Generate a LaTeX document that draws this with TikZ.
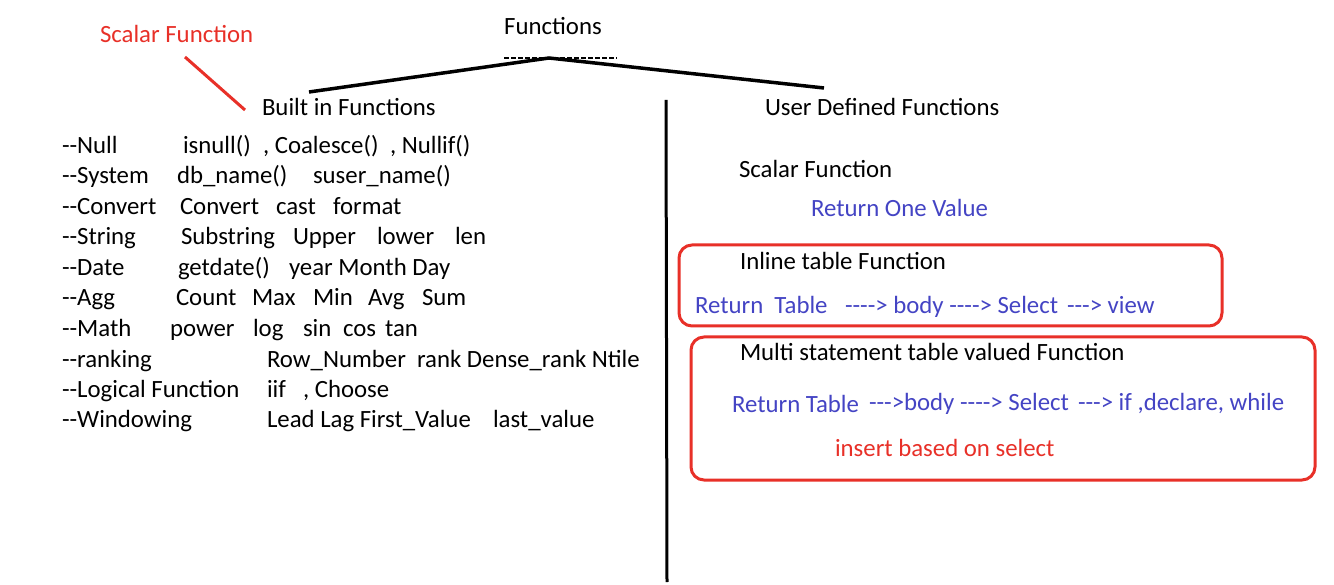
\documentclass[tikz,border=0pt]{standalone}
\usepackage{fontspec}
\setmainfont{Carlito}
\definecolor{myred}{RGB}{232,48,40}
\definecolor{myblue}{RGB}{68,68,196}
\newcommand{\dd}{{-}{-}}
\begin{document}
\begin{tikzpicture}[x=1pt,y=-1pt,
  every node/.style={inner sep=0pt,outer sep=0pt,anchor=base west,font=\fontsize{24.8}{30}\selectfont},
  redtxt/.style={text=myred},
  bluetxt/.style={text=myblue},
  blk/.style={line width=3.5pt,black},
  vline/.style={line width=3pt,black},
  redbox/.style={draw=myred,line width=3pt,rounded corners=13pt},
]
\useasboundingbox[fill=white] (0,0) rectangle (1334,585);
% title
\node[anchor=base] (fun) at (553,35) {Functions};
\coordinate (dl) at (504,58);
\coordinate (dr) at (617,58);
\draw[line width=1.4pt,dash pattern=on 5pt off 2pt] (dl) -- (dr);
\coordinate (apex) at (549,58);
\coordinate (lend) at (309,92);
\coordinate (rend) at (824,88);
\draw[blk] (lend) -- (apex) -- (rend);
% left
\node[redtxt] (sf) at (100,43) {Scalar Function};
\coordinate (sa) at (185,57);
\coordinate (sb) at (245,110);
\draw[myred,line width=3pt] (sa) -- (sb);
\node (bif) at (262,116) {Built in Functions};
% divider
\coordinate (vt) at (666,100);
\coordinate (vb) at (667,582);
\draw[vline] (vt) -- (vb);
% list
\node (l1) at (62,154) {\dd Null};
\node (l1a) at (183,154) {isnull()};
\node (l1b) at (263,154) {, Coalesce()};
\node (l1c) at (390,154) {, Nullif()};
\node (l2) at (62,184) {\dd System};
\node (l2a) at (177,184) {db\_name()};
\node (l2b) at (313,184) {suser\_name()};
\node (l3) at (62,215) {\dd Convert};
\node (l3a) at (180,215) {Convert};
\node (l3b) at (276,215) {cast};
\node (l3c) at (333,215) {format};
\node (l4) at (62,245) {\dd String};
\node (l4a) at (181,245) {Substring};
\node (l4b) at (293,245) {Upper};
\node (l4c) at (377,245) {lower};
\node (l4d) at (455,245) {len};
\node (l5) at (62,276) {\dd Date};
\node (l5a) at (178,276) {getdate()};
\node (l5b) at (289,276) {year Month Day};
\node (l6) at (62,306) {\dd Agg};
\node (l6a) at (176,306) {Count};
\node (l6b) at (252,306) {Max};
\node (l6c) at (313,306) {Min};
\node (l6d) at (368,306) {Avg};
\node (l6e) at (422,306) {Sum};
\node (l7) at (62,337) {\dd Math};
\node (l7a) at (170,337) {power};
\node (l7b) at (253,337) {log};
\node (l7c) at (303,337) {sin};
\node (l7d) at (343,337) {cos};
\node (l7e) at (385,337) {tan};
\node (l8) at (62,367) {\dd ranking};
\node (l8a) at (267,367) {Row\_Number};
\node (l8b) at (417,367) {rank Dense\_rank Ntile};
\node (l9) at (62,398) {\dd Logical Function};
\node (l9a) at (267,398) {iif};
\node (l9b) at (303,398) {, Choose};
\node (l10) at (62,428) {\dd Windowing};
\node (l10a) at (267,428) {Lead Lag First\_Value};
\node (l10b) at (493,428) {last\_value};
% right
\node (udf) at (765,116) {User Defined Functions};
\node (sc) at (739,178) {Scalar Function};
\node[bluetxt] (rov) at (811,217) {Return One Value};
\draw[redbox] (679,245) rectangle (1222,326);
\node (itf) at (740,270) {Inline table Function};
\node[bluetxt] (rt1) at (695,314) {Return\ \ Table};
\node[bluetxt] (rt1b) at (845,314) {\dd\dd> body \dd\dd> Select};
\node[bluetxt] (rt1c) at (1067,314) {\dd{-}> view};
\draw[redbox] (691,337) rectangle (1315,480);
\node (mst) at (740,361) {Multi statement table valued Function};
\node[bluetxt] (rt2) at (732,412) {Return Table};
\node[bluetxt] (rt2b) at (869,410) {\dd{-}>body \dd\dd> Select};
\node[bluetxt] (rt2c) at (1078,410) {\dd{-}> if ,declare, while};
\node[redtxt] (ins) at (835,456) {insert based on select};
\end{tikzpicture}
\end{document}
